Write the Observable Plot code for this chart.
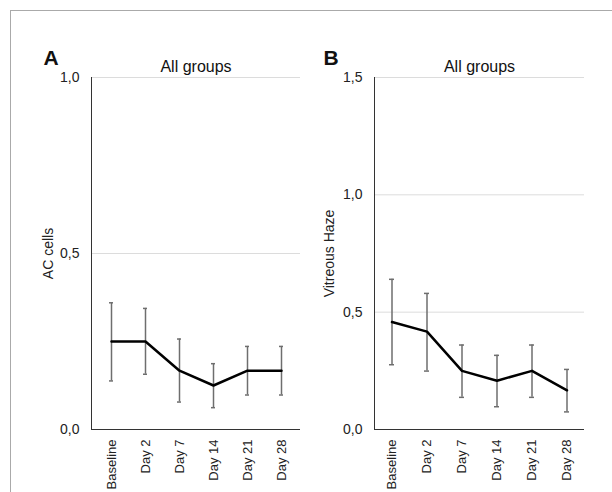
<!DOCTYPE html>
<html>
<head>
<meta charset="utf-8">
<script src="https://cdn.jsdelivr.net/npm/d3@7"></script>
<script src="https://cdn.jsdelivr.net/npm/@observablehq/plot@0.6"></script>
<style>
  html, body { margin: 0; padding: 0; background: white; overflow: hidden; }
  #wrap { position: relative; width: 612px; height: 492px; overflow: hidden; font-family: "Liberation Sans", Arial, sans-serif; }
  #frame { position: absolute; left: 10px; top: 10px; width: 800px; height: 800px; border-top: 1px solid #aaa; border-left: 1px solid #aaa; z-index: 5; pointer-events: none; }
  #panels { position: absolute; left: 0; top: 0; display: flex; }
</style>
</head>
<body>
<div id="wrap">
  <div id="panels"></div>
  <div id="frame"></div>
</div>
<script>
const categories = ["Baseline", "Day 2", "Day 7", "Day 14", "Day 21", "Day 28"];
const acMean = [0.25, 0.25, 0.167, 0.125, 0.167, 0.167];
const acLow  = [0.138, 0.157, 0.078, 0.062, 0.098, 0.098];
const acHigh = [0.36, 0.344, 0.257, 0.187, 0.236, 0.236];
const vhMean = [0.458, 0.417, 0.25, 0.208, 0.25, 0.167];
const vhLow  = [0.276, 0.249, 0.137, 0.097, 0.137, 0.075];
const vhHigh = [0.64, 0.58, 0.36, 0.316, 0.36, 0.256];
const acTicks = [0, 0.5, 1.0];
const vhTicks = [0, 0.5, 1.0, 1.5];

const fmt = d => d.toFixed(1).replace(".", ",");

function panel({letter, title, ylabel, mean, low, high, ticks, ymax, ml, mr, labelOff, letterDx}) {
  const data = categories.map((c, i) => ({c, m: mean[i], lo: low[i], hi: high[i]}));
  return Plot.plot({
    width: 306,
    height: 492,
    marginLeft: ml,
    marginRight: mr,
    marginTop: 77,
    marginBottom: 63,
    style: {fontFamily: '"Liberation Sans", Arial, sans-serif', background: "transparent", overflow: "visible"},
    x: {type: "band", domain: categories, padding: 0, label: null},
    y: {domain: [0, ymax], label: null},
    marks: [
      Plot.ruleY(ticks.filter(t => t > 0), {stroke: "#dcdcdc", strokeWidth: 1}),
      Plot.axisY({ticks, tickFormat: fmt, tickSize: 0, tickPadding: 12, fontSize: 14, fill: "#222", label: null}),
      Plot.axisX({tickSize: 0, tickPadding: 10, tickRotate: -90, fontSize: 13, fill: "#222", label: null}),
      Plot.frame({anchor: "left", stroke: "#333", strokeWidth: 1}),
      Plot.ruleY([0], {stroke: "#333", strokeWidth: 1}),
      Plot.ruleX(data, {x: "c", y1: "lo", y2: "hi", stroke: "#6e6e6e", strokeWidth: 1.5}),
      Plot.tickY(data, {x: "c", y: "lo", stroke: "#6e6e6e", strokeWidth: 1.5, insetLeft: 15, insetRight: 15}),
      Plot.tickY(data, {x: "c", y: "hi", stroke: "#6e6e6e", strokeWidth: 1.5, insetLeft: 15, insetRight: 15}),
      Plot.line(data, {x: "c", y: "m", stroke: "black", strokeWidth: 2.5}),
      Plot.text([ylabel], {frameAnchor: "left", textAnchor: "middle", dx: -labelOff, rotate: -90, fontSize: 14, fill: "#222"}),
      Plot.text([title], {frameAnchor: "top", lineAnchor: "bottom", dy: -6, fontSize: 16, fill: "#111"}),
      Plot.text([letter], {frameAnchor: "top-left", textAnchor: "start", lineAnchor: "bottom", dx: letterDx, dy: -13, fontSize: 21, fontWeight: "bold", fill: "#111"})
    ]
  });
}

const panels = document.getElementById("panels");
panels.appendChild(panel({letter: "A", title: "All groups", ylabel: "AC cells", mean: acMean, low: acLow, high: acHigh, ticks: acTicks, ymax: 1.0, ml: 91, mr: 6, labelOff: 43, letterDx: -48}));
panels.appendChild(panel({letter: "B", title: "All groups", ylabel: "Vitreous Haze", mean: vhMean, low: vhLow, high: vhHigh, ticks: vhTicks, ymax: 1.5, ml: 68, mr: 28, labelOff: 45, letterDx: -51}));
</script>
</body>
</html>
